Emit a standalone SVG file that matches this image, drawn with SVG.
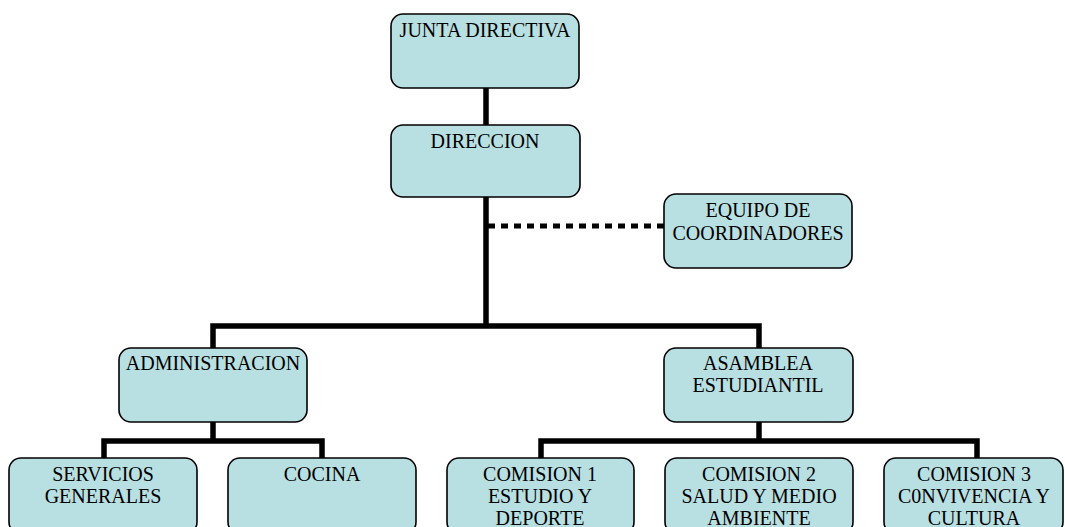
<svg xmlns="http://www.w3.org/2000/svg" width="1065" height="527" viewBox="0 0 1065 527">
  <style>
    .box { fill: #b8dfe2; stroke: #000; stroke-width: 1.6; }
    .lbl { font-family: "Liberation Serif", "Times New Roman", serif; font-size: 20px; fill: #000; text-anchor: middle; }
    .wire { stroke: #000; stroke-width: 5.5; fill: none; stroke-linejoin: miter; stroke-linecap: butt; }
    .dots { stroke: #000; stroke-width: 5; fill: none; stroke-dasharray: 7 6; }
  </style>
  <rect width="1065" height="527" fill="#fff"/>

  <!-- connectors -->
  <g id="connectors">
    <path class="wire" d="M486 88 V125"/>
    <path class="wire" d="M486 197 V326"/>
    <path class="wire" d="M213 348 V326 H759 V348"/>
    <path class="wire" d="M213 422 V441"/>
    <path class="wire" d="M104 458 V441 H322 V458"/>
    <path class="wire" d="M759 422 V441"/>
    <path class="wire" d="M541 458 V441 H977 V458"/>
    <path class="dots" d="M488 226 H664"/>
  </g>

  <g id="junta">
    <rect class="box" x="391" y="14" width="188" height="74" rx="12"/>
    <text class="lbl" x="485" y="37">JUNTA DIRECTIVA</text>
  </g>
  <g id="direccion">
    <rect class="box" x="391" y="125" width="189" height="72" rx="12"/>
    <text class="lbl" x="485" y="148">DIRECCION</text>
  </g>
  <g id="equipo">
    <rect class="box" x="664" y="194" width="188" height="74" rx="12"/>
    <text class="lbl" x="758" y="217">EQUIPO DE</text>
    <text class="lbl" x="758" y="240">COORDINADORES</text>
  </g>
  <g id="administracion">
    <rect class="box" x="119" y="348" width="188" height="74" rx="12"/>
    <text class="lbl" x="213" y="370">ADMINISTRACION</text>
  </g>
  <g id="asamblea">
    <rect class="box" x="664" y="348" width="189" height="74" rx="12"/>
    <text class="lbl" x="758" y="370">ASAMBLEA</text>
    <text class="lbl" x="758" y="392">ESTUDIANTIL</text>
  </g>
  <g id="servicios">
    <rect class="box" x="9" y="458" width="188" height="76" rx="12"/>
    <text class="lbl" x="103" y="481">SERVICIOS</text>
    <text class="lbl" x="103" y="503">GENERALES</text>
  </g>
  <g id="cocina">
    <rect class="box" x="228" y="458" width="188" height="76" rx="12"/>
    <text class="lbl" x="322" y="481">COCINA</text>
  </g>
  <g id="comision1">
    <rect class="box" x="447" y="458" width="187" height="76" rx="12"/>
    <text class="lbl" x="540" y="481">COMISION 1</text>
    <text class="lbl" x="540" y="503">ESTUDIO Y</text>
    <text class="lbl" x="540" y="525">DEPORTE</text>
  </g>
  <g id="comision2">
    <rect class="box" x="665" y="458" width="188" height="76" rx="12"/>
    <text class="lbl" x="759" y="481">COMISION 2</text>
    <text class="lbl" x="759" y="503">SALUD Y MEDIO</text>
    <text class="lbl" x="759" y="525">AMBIENTE</text>
  </g>
  <g id="comision3">
    <rect class="box" x="884" y="458" width="179" height="76" rx="12"/>
    <text class="lbl" x="974" y="481">COMISION 3</text>
    <text class="lbl" x="974" y="503">C0NVIVENCIA Y</text>
    <text class="lbl" x="974" y="525">CULTURA</text>
  </g>
</svg>
